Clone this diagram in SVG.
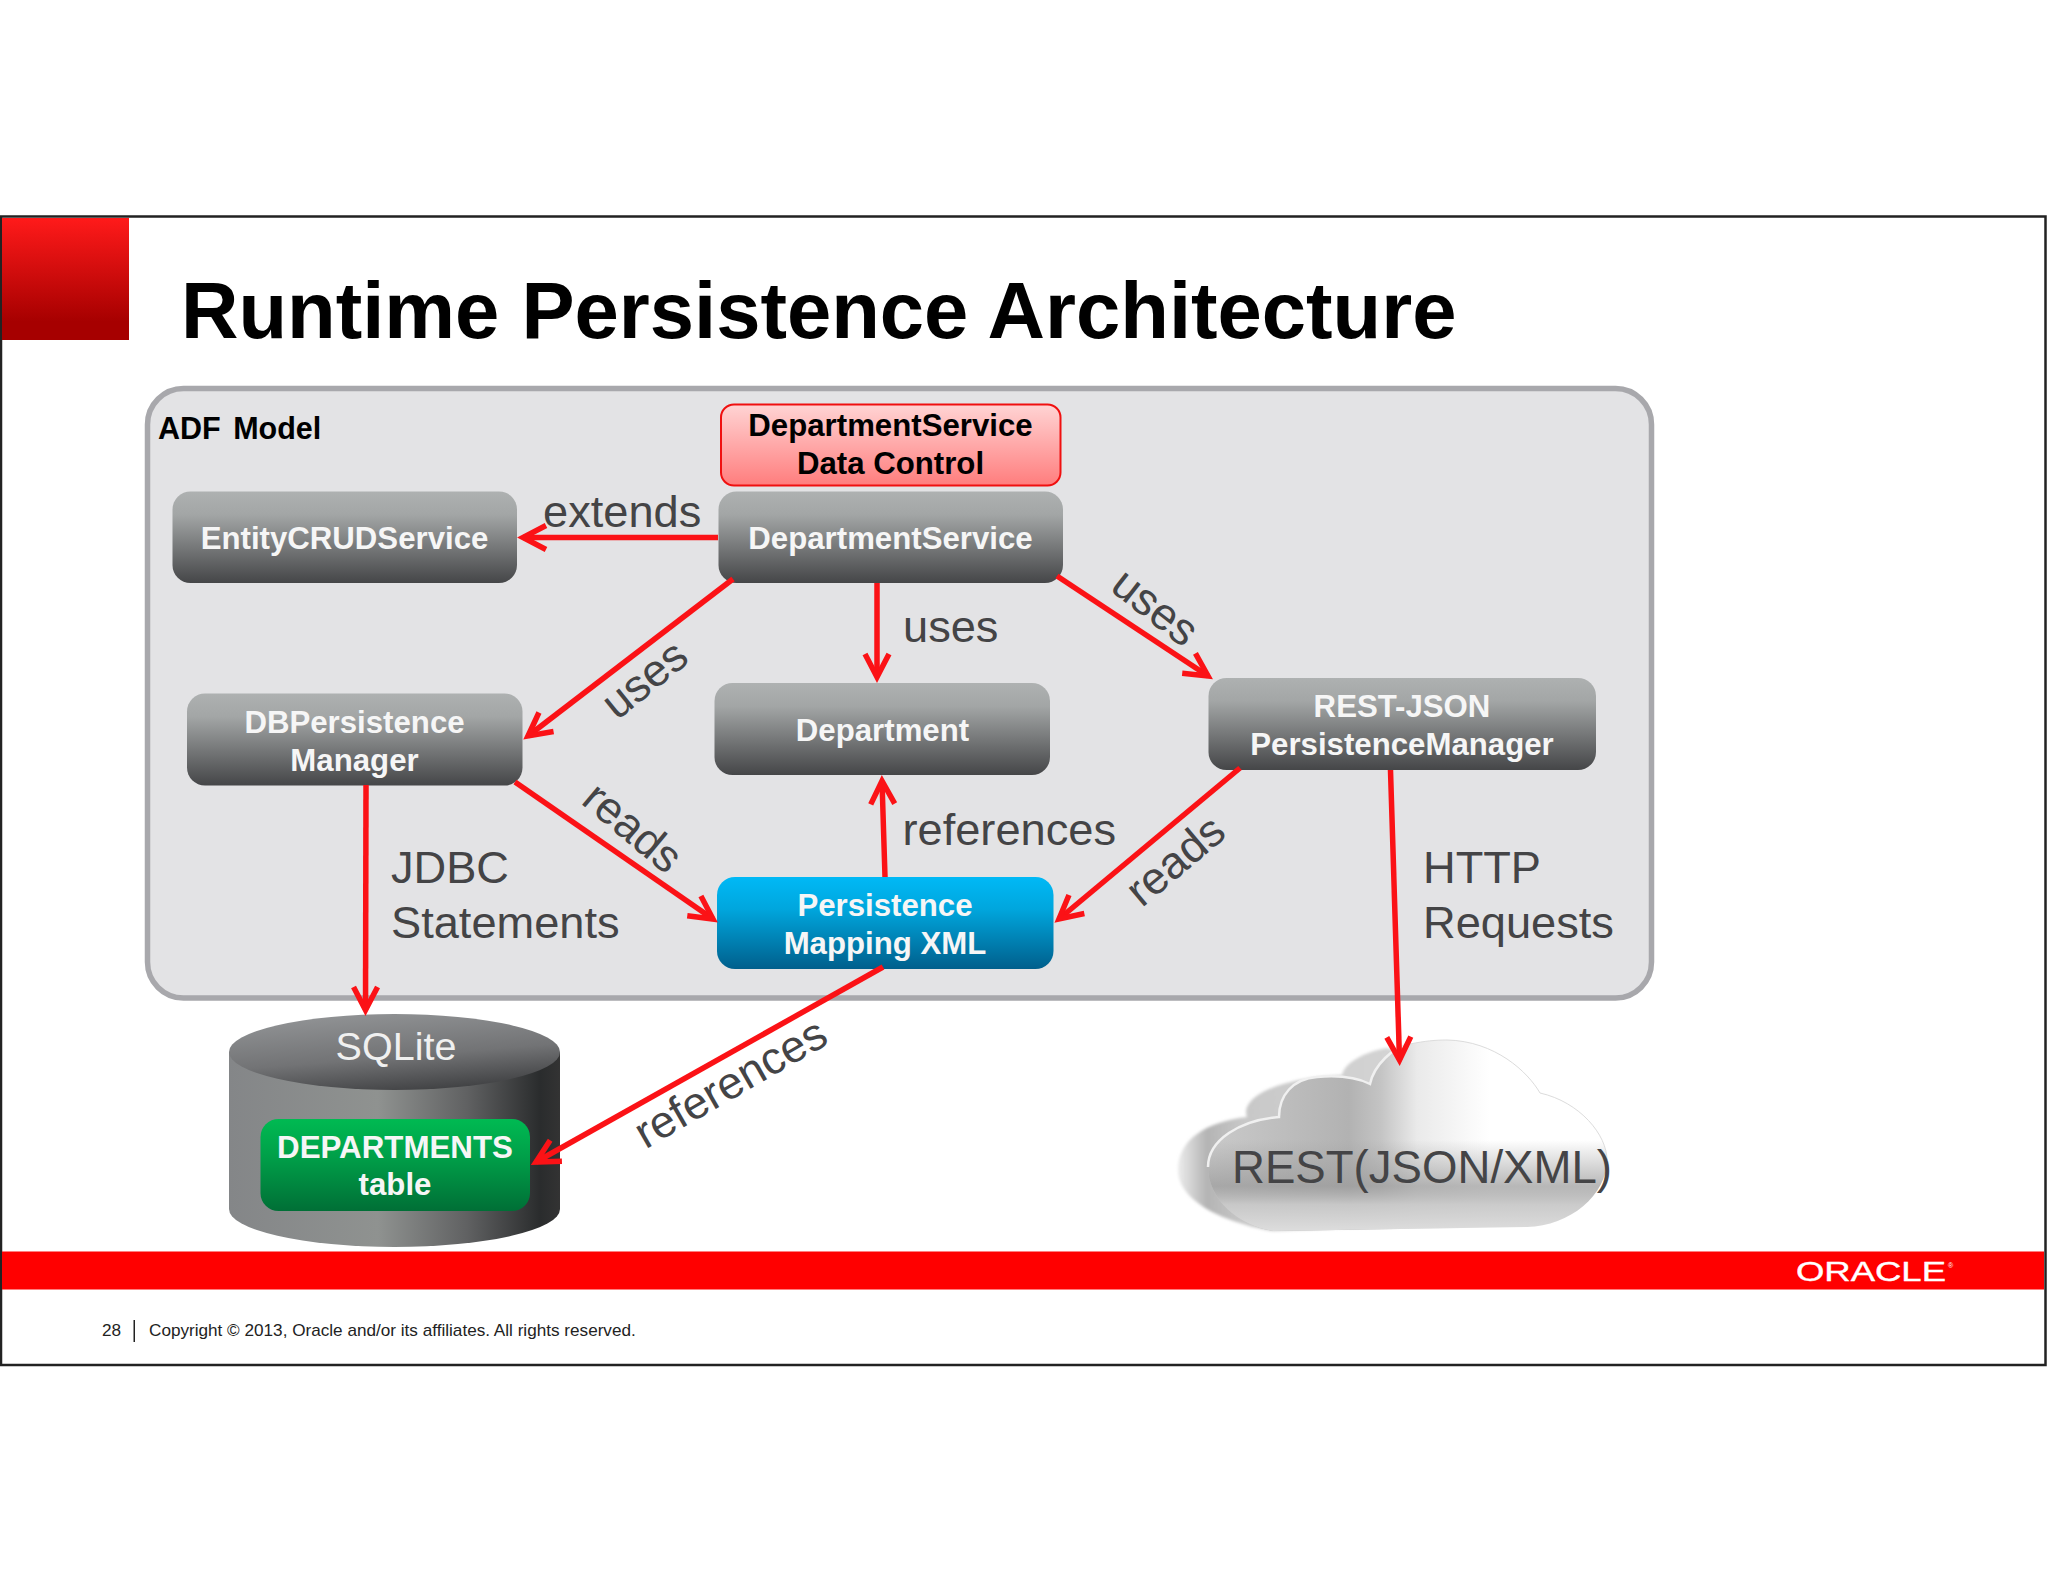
<svg xmlns="http://www.w3.org/2000/svg" width="2048" height="1582" viewBox="0 0 2048 1582">
<style>
text{font-family:"Liberation Sans",Arial,sans-serif}
.n{font-size:31.2px;font-weight:700;fill:#f6f6f6;text-anchor:middle}
.b{fill:#000}
.l{font-size:45.2px;fill:#444446}
.lm{font-size:45.2px;fill:#444446;text-anchor:middle}
.c{fill:none;stroke:#fb1216;stroke-width:5.5;marker-end:url(#a)}
.g{fill:url(#gray)}
</style>
<defs>
<linearGradient id="gray" x1="0" y1="0" x2="0" y2="1"><stop offset="0" stop-color="#aeb1b1"/><stop offset=".25" stop-color="#a3a6a6"/><stop offset="1" stop-color="#454648"/></linearGradient>
<linearGradient id="redsq" x1="0" y1="0" x2="0" y2="1"><stop offset="0" stop-color="#ff1a1a"/><stop offset=".85" stop-color="#a60000"/><stop offset="1" stop-color="#a60000"/></linearGradient>
<linearGradient id="pink" x1="0" y1="0" x2="0" y2="1"><stop offset="0" stop-color="#ffd4d4"/><stop offset="1" stop-color="#ff7d7d"/></linearGradient>
<linearGradient id="blue" x1="0" y1="0" x2="0" y2="1"><stop offset="0" stop-color="#00b9f6"/><stop offset=".35" stop-color="#00a6dd"/><stop offset="1" stop-color="#005f8c"/></linearGradient>
<linearGradient id="green" x1="0" y1="0" x2="0" y2="1"><stop offset="0" stop-color="#00ba52"/><stop offset=".4" stop-color="#00a049"/><stop offset="1" stop-color="#006f36"/></linearGradient>
<linearGradient id="cylb" x1="0" y1="0" x2="1" y2="0"><stop offset="0" stop-color="#848688"/><stop offset=".45" stop-color="#8f9290"/><stop offset=".72" stop-color="#606162"/><stop offset=".94" stop-color="#2a2c2d"/><stop offset="1" stop-color="#333"/></linearGradient>
<linearGradient id="cylt" x1=".35" y1="0" x2=".7" y2="1"><stop offset="0" stop-color="#909294"/><stop offset=".55" stop-color="#727375"/><stop offset="1" stop-color="#3e3f41"/></linearGradient>
<linearGradient id="cback" gradientUnits="userSpaceOnUse" x1="1178" y1="0" x2="1400" y2="0"><stop offset="0" stop-color="#ececec"/><stop offset=".13" stop-color="#b4b4b4"/><stop offset=".3" stop-color="#c8c8c8"/><stop offset="1" stop-color="#d4d4d4"/></linearGradient>
<linearGradient id="cfront" gradientUnits="userSpaceOnUse" x1="1208" y1="0" x2="1610" y2="0"><stop offset="0" stop-color="#cacaca"/><stop offset=".35" stop-color="#b2b2b2"/><stop offset=".43" stop-color="#c4c4c4"/><stop offset=".52" stop-color="#eaeaea"/><stop offset=".7" stop-color="#fff"/><stop offset="1" stop-color="#fff"/></linearGradient>
<linearGradient id="cband" gradientUnits="userSpaceOnUse" x1="0" y1="1140" x2="0" y2="1232"><stop offset="0" stop-color="#999" stop-opacity="0"/><stop offset=".5" stop-color="#999" stop-opacity=".7"/><stop offset=".7" stop-color="#c8c8c8" stop-opacity=".95"/><stop offset="1" stop-color="#dedede"/></linearGradient>
<filter id="soft" x="-5%" y="-5%" width="110%" height="110%"><feGaussianBlur stdDeviation="1.5"/></filter>
<marker id="a" markerUnits="userSpaceOnUse" markerWidth="40" markerHeight="40" refX="36" refY="20" orient="auto" overflow="visible"><path d="M13,8 L36,20 L13,32" fill="none" stroke="#fb1216" stroke-width="5.5" stroke-linejoin="miter"/></marker>
</defs>
<rect width="2048" height="1582" fill="#fff"/>
<g id="slide">
<rect x="1" y="216.5" width="2044.5" height="1148.5" fill="#fff" stroke="#222" stroke-width="2.5"/>
<rect x="2" y="218" width="127" height="122" fill="url(#redsq)"/>
<text x="181" y="338" font-size="79.6" font-weight="700" fill="#000">Runtime Persistence Architecture</text>
<rect x="2" y="1251.5" width="2042" height="38" fill="#f00"/>
<text x="1796" y="1281" font-size="28" fill="#fff" stroke="#fff" stroke-width=".4" textLength="150" lengthAdjust="spacingAndGlyphs">ORACLE</text>
<text x="1948" y="1268" font-size="7" fill="#fff">®</text>
<text x="102" y="1336" font-size="17.2" fill="#222">28</text>
<rect x="133.5" y="1320" width="1.5" height="22" fill="#222"/>
<text x="149" y="1336" font-size="17.15" fill="#222">Copyright © 2013, Oracle and/or its affiliates. All rights reserved.</text>
</g>
<g id="adf-model">
<rect x="147.5" y="388.5" width="1504" height="609.5" rx="36" fill="#e3e3e5" stroke="#a8a8ac" stroke-width="5.5"/>
<text x="158" y="439" font-size="30.5" font-weight="700" word-spacing="4" fill="#000">ADF Model</text>
</g>
<g id="node-data-control">
<rect x="721" y="404.5" width="339.5" height="81" rx="13" fill="url(#pink)" stroke="#f01010" stroke-width="2"/>
<text class="n b" x="890.5" y="436">DepartmentService</text>
<text class="n b" x="890.5" y="474">Data Control</text>
</g>
<g id="node-department-service">
<rect class="g" x="718.5" y="491.5" width="344.5" height="91.5" rx="18"/>
<text class="n" x="890.5" y="549">DepartmentService</text>
</g>
<g id="node-entity-crud">
<rect class="g" x="172.5" y="491.5" width="344.5" height="91.5" rx="18"/>
<text class="n" x="344.5" y="549">EntityCRUDService</text>
</g>
<g id="node-db-persistence">
<rect class="g" x="187" y="693.5" width="335.5" height="92" rx="18"/>
<text class="n" x="354.5" y="733">DBPersistence</text>
<text class="n" x="354.5" y="771">Manager</text>
</g>
<g id="node-department">
<rect class="g" x="714.5" y="683" width="335.5" height="92" rx="18"/>
<text class="n" x="882.5" y="741">Department</text>
</g>
<g id="node-rest-manager">
<rect class="g" x="1208.5" y="678" width="387.5" height="92" rx="18"/>
<text class="n" x="1402" y="717">REST-JSON</text>
<text class="n" x="1402" y="755">PersistenceManager</text>
</g>
<g id="node-persistence-xml">
<rect x="717" y="877" width="336.5" height="92" rx="18" fill="url(#blue)"/>
<text class="n" x="885" y="916">Persistence</text>
<text class="n" x="885" y="954">Mapping XML</text>
</g>
<g id="node-sqlite">
<path d="M229,1052 V1209 A165.5,38 0 0 0 560,1209 V1052 Z" fill="url(#cylb)"/>
<ellipse cx="394.5" cy="1052" rx="165.5" ry="38" fill="url(#cylt)"/>
<text x="396" y="1060" font-size="39.5" fill="#f0f0f0" text-anchor="middle">SQLite</text>
</g>
<g id="node-departments-table">
<rect x="260.5" y="1119" width="269.5" height="92" rx="18" fill="url(#green)"/>
<text class="n" x="395" y="1158" style="font-size:31.3px">DEPARTMENTS</text>
<text class="n" x="395" y="1195">table</text>
</g>
<g id="node-cloud">
<path filter="url(#soft)" d="M1273,1231 C1235,1225 1178,1205 1178,1170 C1178,1140 1205,1122 1247,1117 C1240,1100 1270,1079 1342,1075 C1345,1062 1365,1052 1387,1048 L1420,1060 L1420,1225 Z" fill="url(#cback)"/>
<path d="M1273,1231 C1240,1226 1208,1200 1208,1167 C1208,1140 1240,1120 1279,1117 C1279,1095 1293,1079 1317,1077 C1340,1075 1358,1078 1370,1084 C1374,1065 1393,1047 1410,1044 C1425,1041 1435,1040 1447,1040 C1495,1041 1528,1072 1540,1093 C1580,1102 1607,1135 1607,1160 C1607,1195 1570,1226 1527,1227 Z" fill="url(#cfront)"/>
<path d="M1273,1231 C1240,1226 1208,1200 1208,1167 C1208,1140 1240,1120 1279,1117 C1279,1095 1293,1079 1317,1077 C1340,1075 1358,1078 1370,1084 C1374,1065 1393,1047 1410,1044 C1425,1041 1435,1040 1447,1040 C1495,1041 1528,1072 1540,1093 C1580,1102 1607,1135 1607,1160 C1607,1195 1570,1226 1527,1227 Z" fill="url(#cband)"/>
<path d="M1208,1167 C1208,1140 1240,1120 1279,1117 C1279,1095 1293,1079 1317,1077 C1340,1075 1358,1078 1370,1084 C1374,1065 1393,1047 1410,1044" fill="none" stroke="#f0f0f0" stroke-width="2.5"/>
<path d="M1410,1044 C1425,1041 1435,1040 1447,1040 C1495,1041 1528,1072 1540,1093 C1580,1102 1607,1135 1607,1160" fill="none" stroke="#dcdcdc" stroke-width="1"/>
<text x="1232" y="1183" font-size="45.6" fill="#444446">REST(JSON/XML)</text>
</g>
<g id="connectors">
<line class="c" x1="718" y1="537.5" x2="523" y2="537.5"/>
<line class="c" x1="733" y1="579" x2="528" y2="736"/>
<line class="c" x1="877" y1="583" x2="877" y2="677"/>
<line class="c" x1="1057" y1="576" x2="1208" y2="676"/>
<line class="c" x1="515" y1="782" x2="713" y2="919"/>
<line class="c" x1="885" y1="877" x2="882" y2="781"/>
<line class="c" x1="1240" y1="768" x2="1059" y2="919"/>
<line class="c" x1="366" y1="785" x2="365.5" y2="1010"/>
<line class="c" x1="1390.5" y1="770" x2="1399.5" y2="1060"/>
<line class="c" x1="883" y1="967" x2="536" y2="1162"/>
</g>
<g id="connector-labels">
<text class="l" x="543" y="527">extends</text>
<text class="l" x="903" y="642">uses</text>
<text class="lm" transform="translate(654 691) rotate(-39)">uses</text>
<text class="lm" transform="translate(1146 619) rotate(38)">uses</text>
<text class="lm" transform="translate(623 839) rotate(40)">reads</text>
<text class="lm" transform="translate(1185 872) rotate(-40)">reads</text>
<text class="l" x="902.5" y="845">references</text>
<text class="lm" transform="translate(738 1096) rotate(-30)">references</text>
<text class="l" x="391" y="883">JDBC</text>
<text class="l" x="391" y="938">Statements</text>
<text class="l" x="1423" y="883">HTTP</text>
<text class="l" x="1423" y="938">Requests</text>
</g>
</svg>
